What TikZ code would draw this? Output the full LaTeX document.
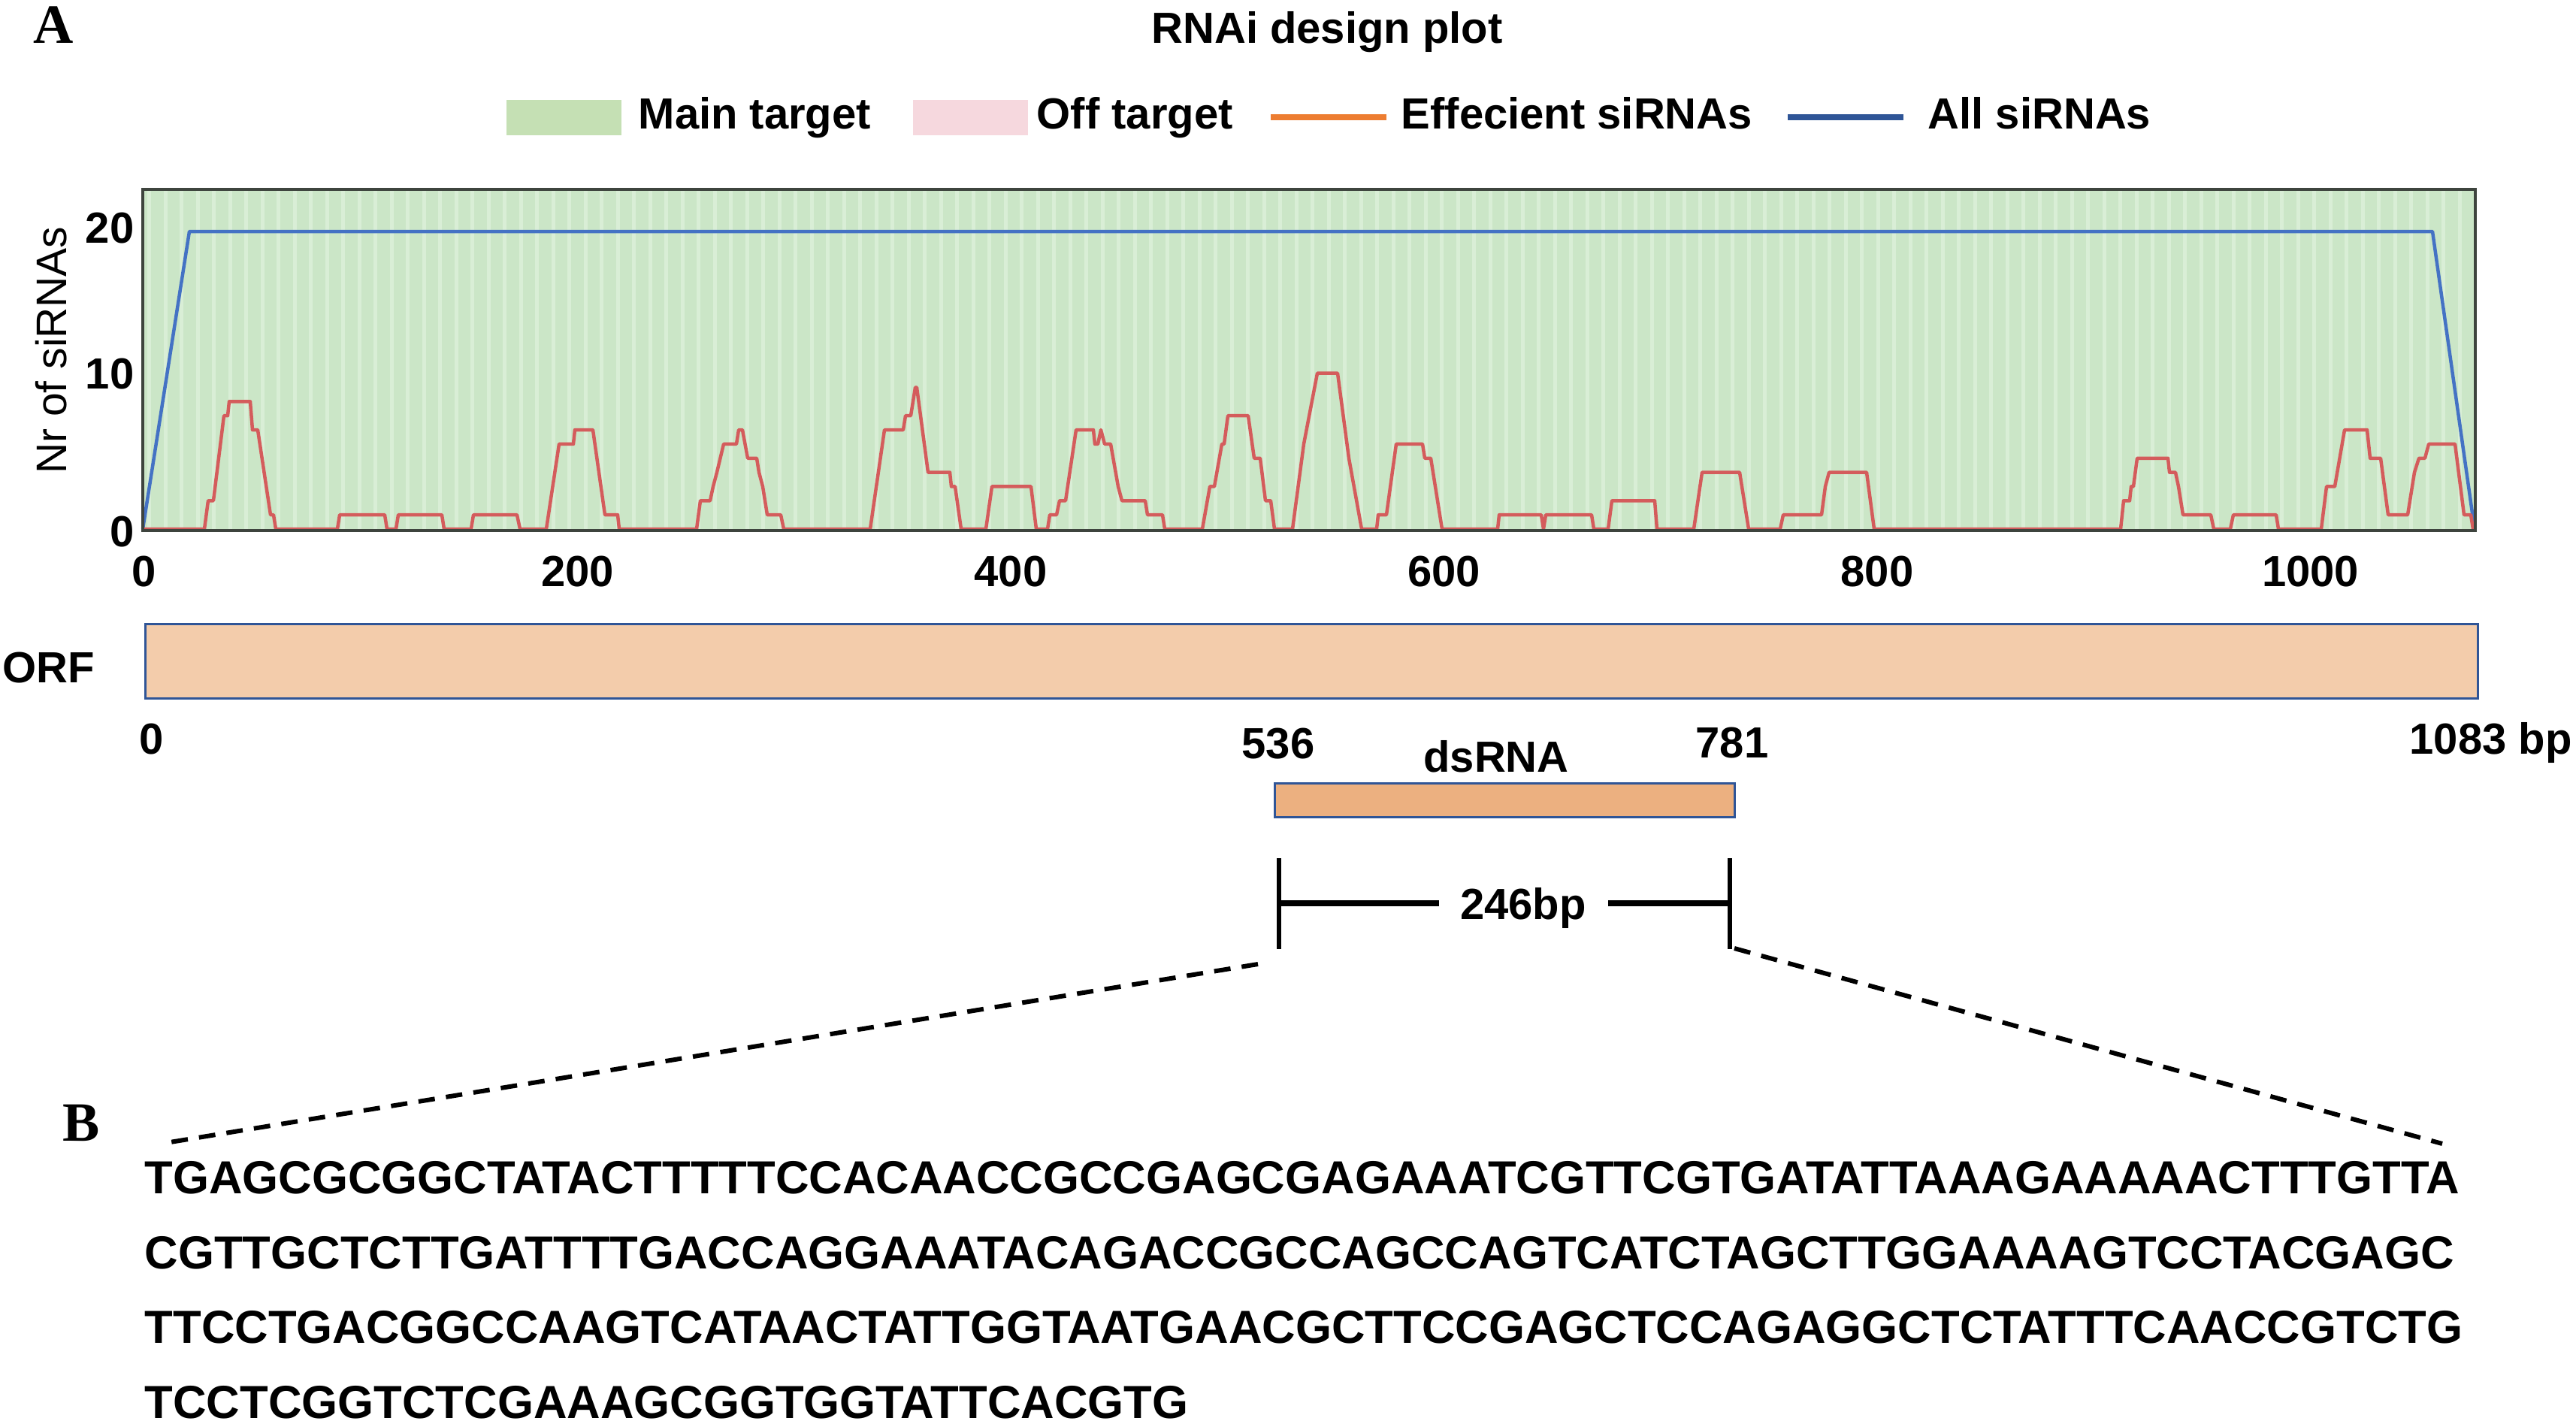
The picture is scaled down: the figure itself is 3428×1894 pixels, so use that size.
\documentclass[tikz,border=0pt]{standalone}
\usepackage{fontspec}
\setmainfont{Liberation Sans}
\newfontfamily\panelfont{Liberation Serif}
\usepackage{tikz}
\usetikzlibrary{positioning,calc}

\definecolor{keygreen}{RGB}{197,224,180}
\definecolor{plotgreen}{RGB}{203,230,199}
\definecolor{stripegreen}{RGB}{217,238,214}
\definecolor{offpink}{RGB}{246,216,222}
\definecolor{efforange}{RGB}{237,125,49}
\definecolor{keyblue}{RGB}{47,85,151}
\definecolor{allblue}{RGB}{68,114,196}
\definecolor{effred}{RGB}{212,92,92}
\definecolor{framegray}{RGB}{62,68,62}
\definecolor{orffill}{RGB}{243,204,171}
\definecolor{dsfill}{RGB}{236,176,128}

\begin{document}
\begin{tikzpicture}[
      x=0.1mm, y=-0.1mm,
      lbl/.style={inner sep=0, font=\bfseries\fontsize{16.5}{19}\selectfont},
      ticklbl/.style={lbl, anchor=base},
      panel/.style={inner sep=0, anchor=base west, font=\panelfont\bfseries\fontsize{21}{24}\selectfont},
      key/.style={inner sep=0, minimum width=15.3mm, minimum height=4.7mm},
      keyline/.style={inner sep=0, minimum width=15.4mm, minimum height=0.8mm},
      bar/.style={draw=keyblue, line width=0.3mm, inner sep=0},
      seq/.style={anchor=base west, inner sep=0, font=\bfseries\fontsize{17.55}{20}\selectfont},
      dimline/.style={line width=0.8mm},
      zoomline/.style={dash pattern=on 2.2mm off 1.5mm, line width=0.6mm}
    ]
    \useasboundingbox (0,0) rectangle (3428,1894);

    % Title and legend
    \node[panel] (pa) at (44,57) {A};
    \node[lbl,anchor=base] (title) at (1766,57) {RNAi design plot};
    \node[key,fill=keygreen] (keymain) at (750,156) {};
    \node[lbl,anchor=base west] (txtmain) at (849,171) {Main target};
    \node[key,fill=offpink] (keyoff) at (1291,156) {};
    \node[lbl,anchor=base west] (txtoff) at (1379,171) {Off target};
    \node[keyline,fill=efforange] (keyeff) at (1768,156) {};
    \node[lbl,anchor=base west] (txteff) at (1864,171) {Effecient siRNAs};
    \node[keyline,fill=keyblue] (keyall) at (2456,156) {};
    \node[lbl,anchor=base west] (txtall) at (2565,171) {All siRNAs};

    % Plot area
    \fill[plotgreen] (190,252) rectangle (3294,706);
    \foreach \i in {0,...,143}
      \fill[stripegreen] ({196+21.5*\i},254) rectangle +(5,450);
    \draw[allblue,line width=0.45mm,line join=round] (190,704) -- (252,308) -- (3237,308) -- (3293,704);
    \begin{scope}[shift={(0,704)}, y=1.885mm]
      \draw[effred,line width=0.45mm,line join=round] plot coordinates {
        (190,0) (272,0) (277,2) (284,2) (298,8) (303,8) (305,9) (333,9) (336,7) (343,7)
        (360,1) (364,1) (367,0) (449,0) (452,1) (512,1) (515,0) (527,0) (530,1) (588,1)
        (591,0) (627,0) (630,1) (688,1) (692,0) (727,0) (744,6) (763,6) (765,7) (789,7)
        (805,1) (822,1) (824,0) (927,0) (932,2) (945,2) (949,3) (954,4) (963,6) (980,6)
        (983,7) (988,7) (995,5) (1007,5) (1010,4) (1015,3) (1021,1) (1039,1) (1043,0) (1158,0)
        (1177,7) (1202,7) (1205,8) (1212,8) (1218,10) (1220,10) (1235,4) (1264,4) (1266,3) (1271,3)
        (1279,0) (1312,0) (1320,3) (1372,3) (1379,0) (1394,0) (1397,1) (1406,1) (1410,2) (1418,2)
        (1432,7) (1455,7) (1457,6) (1461,6) (1465,7) (1470,6) (1478,6) (1488,3) (1493,2) (1524,2)
        (1527,1) (1547,1) (1550,0) (1600,0) (1610,3) (1616,3) (1626,6) (1629,6) (1634,8) (1661,8)
        (1669,5) (1677,5) (1684,2) (1691,2) (1696,0) (1720,0) (1735,6) (1753,11) (1780,11) (1795,5)
        (1812,0) (1832,0) (1834,1) (1845,1) (1858,6) (1893,6) (1896,5) (1904,5) (1919,0) (1993,0)
        (1995,1) (2051,1) (2054,0) (2057,1) (2118,1) (2121,0) (2140,0) (2145,2) (2202,2) (2205,0)
        (2254,0) (2265,4) (2315,4) (2327,0) (2369,0) (2373,1) (2424,1) (2429,3) (2434,4) (2484,4)
        (2494,0) (2822,0) (2826,2) (2834,2) (2836,3) (2839,3) (2844,5) (2885,5) (2887,4) (2895,4)
        (2899,3) (2905,1) (2942,1) (2946,0) (2968,0) (2972,1) (3029,1) (3032,0) (3089,0) (3096,3)
        (3107,3) (3120,7) (3150,7) (3154,5) (3168,5) (3178,1) (3204,1) (3213,4) (3219,5) (3227,5)
        (3232,6) (3267,6) (3279,1) (3288,1) (3291,0)};
    \end{scope}
    \draw[framegray,line width=0.35mm] (190,252) rectangle (3294,706);

    % Axis labels
    \node[lbl,anchor=base east] (y20) at (179,323) {20};
    \node[lbl,anchor=base east] (y10) at (179,517) {10};
    \node[lbl,anchor=base east] (y0) at (179,727) {0};
    \node[inner sep=0,rotate=90,font=\fontsize{16.2}{19}\selectfont] (ytitle) at (68,466) {Nr of siRNAs};
    \foreach \v [count=\k from 0] in {0,200,400,600,800,1000}
      \node[ticklbl] (x\v) at ({192+576.5*\k},780) {\v};

    % ORF and dsRNA
    \node[lbl,anchor=base west] (orflbl) at (3,908) {ORF};
    \node[bar,fill=orffill,minimum width=310.4mm,minimum height=9.9mm] (orf) at (1745,879.5) {};
    \node[ticklbl] (o0) at (202,1003) {0};
    \node[ticklbl] (o536) at (1701,1009) {536};
    \node[ticklbl] (o781) at (2305,1008) {781};
    \node[lbl,anchor=base west] (oend) at (3206,1003) {1083 bp};
    \node[ticklbl] (dslbl) at (1991,1027) {dsRNA};
    \node[bar,fill=dsfill,minimum width=61.2mm,minimum height=4.5mm] (ds) at (2002,1064.5) {};

    % 246 bp span
    \coordinate (lTop) at (1702,1142);
    \coordinate (lBot) at (1702,1263);
    \coordinate (rTop) at (2302,1142);
    \coordinate (rBot) at (2302,1263);
    \coordinate (lMid) at (1702,1202);
    \coordinate (rMid) at (2302,1202);
    \node[lbl,anchor=base,inner xsep=2.8mm] (span) at (2027,1223) {246bp};
    \draw[line width=0.6mm] (lTop) -- (lBot);
    \draw[line width=0.6mm] (rTop) -- (rBot);
    \draw[dimline] (lMid) -- (lMid -| span.west);
    \draw[dimline] (rMid) -- (rMid -| span.east);

    % Zoom to sequence
    \coordinate (zl1) at (1674,1283);
    \coordinate (zl2) at (214,1522);
    \coordinate (zr1) at (2308,1262);
    \coordinate (zr2) at (3250,1522);
    \draw[zoomline] (zl1) -- (zl2);
    \draw[zoomline] (zr1) -- (zr2);

    % Sequence
    \node[panel] (pb) at (83,1518) {B};
    \node[seq] (s1) at (192,1588) {TGAGCGCGGCTATACTTTTTCCACAACCGCCGAGCGAGAAATCGTTCGTGATATTAAAGAAAAACTTTGTTA};
    \node[seq] (s2) at (192,1688) {CGTTGCTCTTGATTTTGACCAGGAAATACAGACCGCCAGCCAGTCATCTAGCTTGGAAAAGTCCTACGAGC};
    \node[seq] (s3) at (192,1787) {TTCCTGACGGCCAAGTCATAACTATTGGTAATGAACGCTTCCGAGCTCCAGAGGCTCTATTTCAACCGTCTG};
    \node[seq] (s4) at (192,1887) {TCCTCGGTCTCGAAAGCGGTGGTATTCACGTG};
  \end{tikzpicture}
\end{document}
